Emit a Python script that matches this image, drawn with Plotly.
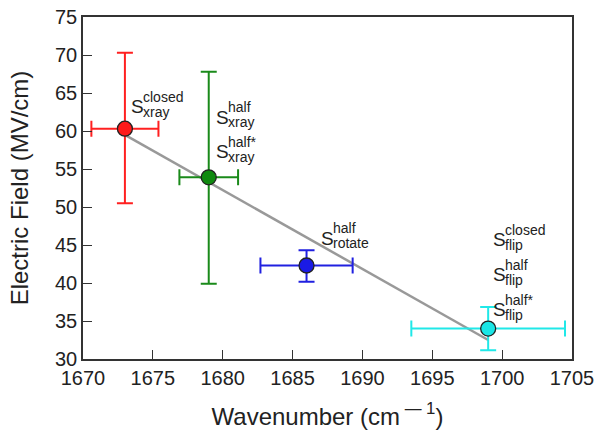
import plotly.graph_objects as go

# ---- data ----
names = ["closed_xray", "half_xray", "rotate", "flip"]
wavenumber = [1673.0, 1679.0, 1686.0, 1699.0]
field = [60.3, 53.9, 42.3, 34.0]
x_err = [2.4, 2.1, 3.3, 5.5]
y_err_plus = [10.0, 13.9, 2.0, 2.85]
y_err_minus = [9.8, 14.0, 2.15, 2.85]
colors = ["#ff1a1a", "#0f8a0f", "#1a1ae6", "#1ae6e6"]
bar_colors = ["#ff2020", "#1a8a1a", "#2020e0", "#20e8e8"]

fit_x = [1673.0, 1699.0]
fit_y = [59.5, 32.5]

label_x = [1673.3, 1679.4, 1679.4, 1686.9, 1699.2, 1699.2, 1699.2]
label_y = [63.2, 61.8, 57.3, 45.9, 45.7, 41.1, 36.5]
label_sup = ["closed", "half", "half*", "half", "closed", "half", "half*"]
label_sub = ["xray", "xray", "xray", "rotate", "flip", "flip", "flip"]

x_ticks = [1670, 1675, 1680, 1685, 1690, 1695, 1700, 1705]
y_ticks = [30, 35, 40, 45, 50, 55, 60, 65, 70, 75]

FONT = "Liberation Sans, Arial, Helvetica, sans-serif"

fig = go.Figure()

fig.add_trace(go.Scatter(x=fit_x, y=fit_y, mode="lines",
                         line=dict(color="#999999", width=2.5),
                         showlegend=False, hoverinfo="skip"))

for i in range(len(names)):
    fig.add_trace(go.Scatter(
        x=[wavenumber[i]], y=[field[i]], mode="markers",
        marker=dict(size=15, color=colors[i], line=dict(color="#222222", width=1.3)),
        error_x=dict(type="data", array=[x_err[i]], color=bar_colors[i], thickness=2, width=8),
        error_y=dict(type="data", array=[y_err_plus[i]], arrayminus=[y_err_minus[i]],
                     color=bar_colors[i], thickness=2, width=8),
        showlegend=False, name=names[i]))

ann = []
for lx, ly, sp, sb in zip(label_x, label_y, label_sup, label_sub):
    ann.append(dict(x=lx, y=ly, xref="x", yref="y", text="S", showarrow=False,
                    xanchor="left", yanchor="middle",
                    font=dict(family=FONT, size=19, color="#222222")))
    ann.append(dict(x=lx, y=ly, xref="x", yref="y", text=sp, showarrow=False,
                    xanchor="left", yanchor="middle", xshift=12, yshift=10,
                    font=dict(family=FONT, size=14, color="#222222")))
    ann.append(dict(x=lx, y=ly, xref="x", yref="y", text=sb, showarrow=False,
                    xanchor="left", yanchor="middle", xshift=12, yshift=-5,
                    font=dict(family=FONT, size=14, color="#222222")))

axis_common = dict(showline=True, linecolor="#333333", linewidth=1.5, mirror=True,
                   ticks="inside", ticklen=9, tickwidth=1.3, tickcolor="#333333",
                   showgrid=False, zeroline=False, automargin=False,
                   tickfont=dict(family=FONT, size=20, color="#222222"))

fig.update_layout(
    width=602, height=443,
    margin=dict(l=83, r=30, t=17, b=84),
    paper_bgcolor="white", plot_bgcolor="white",
    annotations=ann,
    xaxis=dict(range=[1670, 1705], tickvals=x_ticks,
               title=dict(text="Wavenumber (cm<sup> \u2014 1</sup>)", standoff=20,
                          font=dict(family=FONT, size=24, color="#222222")),
               **axis_common),
    yaxis=dict(range=[30, 75], tickvals=y_ticks,
               title=dict(text="Electric Field (MV/cm)", standoff=20,
                          font=dict(family=FONT, size=24, color="#222222")),
               **axis_common),
)

fig.write_html("out.html", config={"displayModeBar": False},
               post_script="document.body.style.margin='0px';")
